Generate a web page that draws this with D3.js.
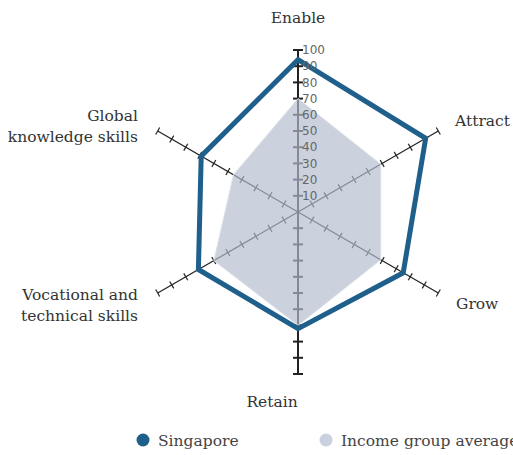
<!DOCTYPE html>
<html>
<head>
<meta charset="utf-8">
<script src="https://cdn.jsdelivr.net/npm/d3@7"></script>
<style>
body { margin: 0; background: #fff; }
.lbl { font-family: "DejaVu Serif", serif; font-size: 15.5px; fill: #333; }
.tick-lbl { font-family: "DejaVu Sans", sans-serif; font-size: 12px; fill: #666; }
</style>
</head>
<body>
<script>
const categories = ["Enable", "Attract", "Grow", "Retain", "Vocational and technical skills", "Global knowledge skills"];
const singapore = [94, 91, 75, 72, 71, 69];
const incomeAvg = [70, 59, 59, 70, 60, 46];
const tickValues = [10, 20, 30, 40, 50, 60, 70, 80, 90, 100];
const seriesNames = ["Singapore", "Income group average"];

const width = 513, height = 455;
const cx = 298, cy = 212;

const rScale = d3.scaleLinear().domain([0, 100]).range([0, 162]);
const angle = d3.scaleLinear().domain([0, categories.length]).range([0, 2 * Math.PI]);

function pt(i, v) {
    const a = angle(i);
    return [Math.sin(a) * rScale(v), -Math.cos(a) * rScale(v)];
}

const svg = d3.select("body").append("svg")
    .attr("width", width)
    .attr("height", height);

const g = svg.append("g")
    .attr("transform", "translate(" + cx + "," + cy + ")");

// axes
const axes = g.append("g");
categories.forEach((c, i) => {
    const vertical = (i === 0 || i === 3);
    const end = pt(i, 100);
    axes.append("line")
        .attr("x1", 0).attr("y1", 0)
        .attr("x2", end[0]).attr("y2", end[1])
        .style("stroke", "#222")
        .style("stroke-width", vertical ? 2 : 1.2);
    const a = angle(i);
    const px = Math.cos(a), py = Math.sin(a); // perpendicular
    const hl = vertical ? 5 : 4;
    axes.selectAll(null)
        .data(tickValues)
        .enter().append("line")
        .attr("x1", d => pt(i, d)[0] - px * hl)
        .attr("y1", d => pt(i, d)[1] - py * hl)
        .attr("x2", d => pt(i, d)[0] + px * hl)
        .attr("y2", d => pt(i, d)[1] + py * hl)
        .style("stroke", "#222")
        .style("stroke-width", vertical ? 2 : 1.2);
});

const line = d3.line().curve(d3.curveLinearClosed);

// income group average
g.append("path")
    .attr("d", line(incomeAvg.map((v, i) => pt(i, v))))
    .style("fill", "#b2bccf")
    .style("fill-opacity", 0.68)
    .style("stroke", "#dfe3ea")
    .style("stroke-width", 1);

// singapore
g.append("path")
    .attr("d", line(singapore.map((v, i) => pt(i, v))))
    .style("fill", "none")
    .style("stroke", "#1f5f8b")
    .style("stroke-width", 5)
    .style("stroke-linejoin", "miter");

// tick labels
g.selectAll(".tick-lbl")
    .data(tickValues)
    .enter().append("text")
    .attr("class", "tick-lbl")
    .attr("x", 4)
    .attr("y", d => -rScale(d))
    .attr("dy", "0.35em")
    .text(d => d);

// category labels
const labelPos = [
    {x: 0, y: -189, anchor: "middle"},
    {x: 157, y: -86, anchor: "start"},
    {x: 158, y: 97, anchor: "start"},
    {x: -26, y: 195, anchor: "middle"},
    {x: -160, y: 88, anchor: "end"},
    {x: -160, y: -91, anchor: "end"}
];
const labelLines = [["Enable"], ["Attract"], ["Grow"], ["Retain"], ["Vocational and", "technical skills"], ["Global", "knowledge skills"]];
categories.forEach((c, i) => {
    const t = g.append("text")
        .attr("class", "lbl")
        .attr("text-anchor", labelPos[i].anchor)
        .attr("x", labelPos[i].x)
        .attr("y", labelPos[i].y);
    labelLines[i].forEach((l, j) => {
        t.append("tspan")
            .attr("x", labelPos[i].x)
            .attr("dy", j === 0 ? 0 : 21)
            .text(l);
    });
});

// legend
const legend = svg.append("g");
const legendX = [143, 326];
const legendColors = ["#1f5f8b", "#c9d0de"];
seriesNames.forEach((s, i) => {
    legend.append("circle")
        .attr("cx", legendX[i]).attr("cy", 440).attr("r", 6.5)
        .style("fill", legendColors[i]);
    legend.append("text")
        .attr("class", "lbl")
        .attr("x", legendX[i] + 15)
        .attr("y", 446)
        .style("fill", "#444")
        .text(s);
});
</script>
</body>
</html>
